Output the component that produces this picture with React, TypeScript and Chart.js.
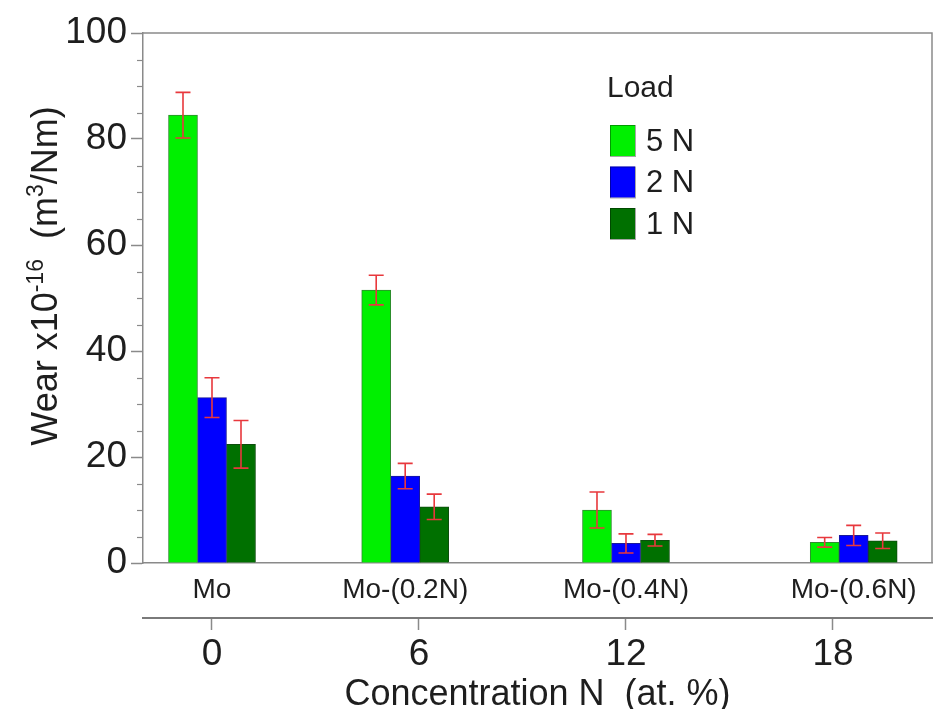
import React, { useEffect, useRef } from 'react';
import { Chart, registerables } from 'chart.js';

Chart.register(...registerables);

// ---------- data ----------
const SAMPLES = ['Mo', 'Mo-(0.2N)', 'Mo-(0.4N)', 'Mo-(0.6N)'];
const CONCENTRATION = [0, 5.6, 12.0, 18.6]; // at. % N of each sample
const CONC_TICKS = [0, 6, 12, 18];
const LOADS = ['5 N', '2 N', '1 N'];

const WEAR_5N = [84.5, 51.5, 10.0, 3.9];
const ERR_5N = [4.3, 2.8, 3.4, 0.9];
const WEAR_2N = [31.2, 16.4, 3.7, 5.2];
const ERR_2N = [3.75, 2.4, 1.8, 1.9];
const WEAR_1N = [22.4, 10.6, 4.3, 4.2];
const ERR_1N = [4.5, 2.4, 1.1, 1.45];

const Y_MIN = 0;
const Y_MAX = 100;
const Y_STEP = 20;
const Y_MINOR_STEP = 5;
const X_MIN = -2;
const X_MAX = 20.87;

const COLORS = ['#00f000', '#0000ff', '#007000'];
const BORDERS = ['#2e8b2e', '#1a1a9a', '#0d4d0d'];
const ERR_COLOR = '#e8383d';
const AXIS_COLOR = '#8a8a8a';
const TEXT_COLOR = '#1e1e1e';
const FONT = "'Liberation Sans', Arial, sans-serif";

const Y_TITLE = [
  { t: 'Wear x10', sup: false },
  { t: '-16', sup: true },
  { t: '  (m', sup: false },
  { t: '3', sup: true },
  { t: '/Nm)', sup: false },
];

const framePlugin = {
  id: 'frame',
  beforeDatasetsDraw(chart: any) {
    const { ctx, chartArea } = chart;
    ctx.save();
    ctx.strokeStyle = AXIS_COLOR;
    ctx.lineWidth = 1.5;
    ctx.beginPath();
    ctx.moveTo(chartArea.left, chartArea.top);
    ctx.lineTo(chartArea.right, chartArea.top);
    ctx.lineTo(chartArea.right, chartArea.bottom);
    ctx.stroke();
    ctx.restore();
  },
};

const minorTicksPlugin = {
  id: 'minorTicks',
  afterDraw(chart: any) {
    const { ctx } = chart;
    const y = chart.scales.y;
    ctx.save();
    ctx.strokeStyle = AXIS_COLOR;
    ctx.lineWidth = 1.2;
    for (let v = Y_MIN; v <= Y_MAX; v += Y_MINOR_STEP) {
      if (v % Y_STEP === 0) continue;
      const py = Math.round(y.getPixelForValue(v)) + 0.5;
      ctx.beginPath();
      ctx.moveTo(y.right - 6, py);
      ctx.lineTo(y.right, py);
      ctx.stroke();
    }
    ctx.restore();
  },
};

const errorBarsPlugin = {
  id: 'errorBars',
  afterDatasetsDraw(chart: any) {
    const { ctx } = chart;
    const y = chart.scales.y;
    ctx.save();
    ctx.strokeStyle = ERR_COLOR;
    ctx.lineWidth = 1.6;
    chart.data.datasets.forEach((ds: any, i: number) => {
      const meta = chart.getDatasetMeta(i);
      meta.data.forEach((bar: any, j: number) => {
        const v = ds.data[j].y;
        const e = ds.errors[j];
        const top = y.getPixelForValue(v + e);
        const bot = y.getPixelForValue(v - e);
        const x = bar.x;
        const cap = 7.5;
        ctx.beginPath();
        ctx.moveTo(x, top);
        ctx.lineTo(x, bot);
        ctx.moveTo(x - cap, top);
        ctx.lineTo(x + cap, top);
        ctx.moveTo(x - cap, bot);
        ctx.lineTo(x + cap, bot);
        ctx.stroke();
      });
    });
    ctx.restore();
  },
};

const yTitlePlugin = {
  id: 'yTitle',
  afterDraw(chart: any) {
    const { ctx } = chart;
    const size = 36;
    const supSize = 23;
    ctx.save();
    ctx.fillStyle = TEXT_COLOR;
    ctx.textBaseline = 'alphabetic';
    ctx.textAlign = 'left';
    let total = 0;
    const widths = Y_TITLE.map((s) => {
      ctx.font = `${s.sup ? supSize : size}px ${FONT}`;
      const w = ctx.measureText(s.t).width;
      total += w;
      return w;
    });
    const cy = (chart.chartArea.top + chart.chartArea.bottom) / 2 - 22;
    ctx.translate(57, cy);
    ctx.rotate(-Math.PI / 2);
    let x = -total / 2;
    Y_TITLE.forEach((s, i) => {
      ctx.font = `${s.sup ? supSize : size}px ${FONT}`;
      ctx.fillText(s.t, x, s.sup ? -14 : 0);
      x += widths[i];
    });
    ctx.restore();
  },
};

const legendPlugin = {
  id: 'insideLegend',
  afterDraw(chart: any) {
    const { ctx } = chart;
    ctx.save();
    ctx.fillStyle = TEXT_COLOR;
    ctx.font = `30px ${FONT}`;
    ctx.textBaseline = 'middle';
    ctx.textAlign = 'left';
    ctx.fillText('Load', 607, 89);
    chart.data.datasets.forEach((ds: any, i: number) => {
      const top = 125 + i * 41.5;
      ctx.fillStyle = ds.backgroundColor;
      ctx.fillRect(610, top, 25, 31);
      ctx.strokeStyle = 'rgba(0,0,0,0.35)';
      ctx.lineWidth = 1;
      ctx.strokeRect(610.5, top + 0.5, 25, 31);
      ctx.fillStyle = TEXT_COLOR;
      ctx.font = `31px ${FONT}`;
      ctx.fillText(ds.label, 646, top + 17);
    });
    ctx.restore();
  },
};

export default function App() {
  const ref = useRef<HTMLCanvasElement | null>(null);

  useEffect(() => {
    if (!ref.current) return;
    Chart.defaults.font.family = FONT;
    const series = [WEAR_5N, WEAR_2N, WEAR_1N];
    const errs = [ERR_5N, ERR_2N, ERR_1N];
    const chart = new Chart(ref.current, {
      type: 'bar',
      data: {
        datasets: series.map((vals, k) => ({
          label: LOADS[k],
          data: CONCENTRATION.map((c, i) => ({ x: c, y: vals[i] })),
          errors: errs[k],
          backgroundColor: COLORS[k],
          borderColor: BORDERS[k],
          borderWidth: 1,
          barThickness: 29,
        })) as any,
      },
      options: {
        animation: false,
        responsive: false,
        devicePixelRatio: 1,
        layout: { padding: { top: 33, right: 4, left: 0, bottom: 0 } },
        plugins: {
          legend: { display: false },
          tooltip: { enabled: false },
        },
        scales: {
          x: {
            type: 'linear',
            position: 'bottom',
            min: X_MIN,
            max: X_MAX,
            offset: false,
            weight: 0,
            grid: { display: false, drawTicks: false, offset: false },
            border: { display: true, color: AXIS_COLOR, width: 1.5 },
            afterBuildTicks: (s: any) => {
              s.ticks = CONCENTRATION.map((v) => ({ value: v }));
            },
            ticks: {
              callback: (_v: any, i: number) => SAMPLES[i],
              font: { size: 28, family: FONT },
              color: TEXT_COLOR,
              padding: 10,
              maxRotation: 0,
              autoSkip: false,
            },
            afterFit: (s: any) => {
              s.height = 55;
            },
          },
          x2: {
            type: 'linear',
            position: 'bottom',
            min: X_MIN,
            max: X_MAX,
            offset: false,
            weight: 1,
            grid: {
              display: true,
              drawOnChartArea: false,
              drawTicks: true,
              tickLength: 12,
              color: AXIS_COLOR,
              tickColor: AXIS_COLOR,
              tickWidth: 1.5,
              offset: false,
            },
            border: { display: true, color: '#7a7a7a', width: 2 },
            afterBuildTicks: (s: any) => {
              s.ticks = CONC_TICKS.map((v) => ({ value: v }));
            },
            ticks: {
              font: { size: 37, lineHeight: 1, family: FONT },
              color: TEXT_COLOR,
              padding: 6,
              maxRotation: 0,
              autoSkip: false,
            },
            title: {
              display: true,
              text: 'Concentration N  (at. %)',
              font: { size: 36, lineHeight: 0.8, family: FONT },
              color: TEXT_COLOR,
              padding: 0,
            },
            afterFit: (s: any) => {
              s.height = 91;
            },
          },
          y: {
            type: 'linear',
            min: Y_MIN,
            max: Y_MAX,
            ticks: {
              stepSize: Y_STEP,
              font: { size: 37, family: FONT },
              color: TEXT_COLOR,
              padding: 4,
            },
            grid: {
              display: true,
              drawOnChartArea: false,
              drawTicks: true,
              tickLength: 12,
              tickColor: AXIS_COLOR,
              tickWidth: 1.5,
            },
            border: { display: true, color: AXIS_COLOR, width: 1.5 },
            afterFit: (s: any) => {
              s.width = 143;
            },
          },
        },
      } as any,
      plugins: [framePlugin, errorBarsPlugin, minorTicksPlugin, yTitlePlugin, legendPlugin],
    });
    return () => chart.destroy();
  }, []);

  return (
    <div style={{ position: 'fixed', left: 0, top: 0, width: 936, height: 709, background: '#fff' }}>
      <canvas ref={ref} width={936} height={709} style={{ display: 'block', width: 936, height: 709 }} />
    </div>
  );
}
